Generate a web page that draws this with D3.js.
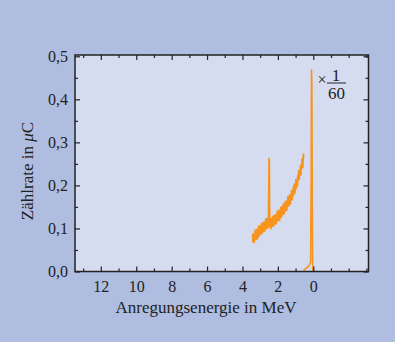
<!DOCTYPE html>
<html><head><meta charset="utf-8">
<script src="https://cdn.jsdelivr.net/npm/d3@7"></script>
<style>html,body{margin:0;padding:0;background:#aebde0;}svg{display:block;}</style>
</head><body>
<svg id="c" width="395" height="342"></svg>
<script>
// Spectrum band (excitation energy in MeV, count rate per µC)
const bandEnergy = [3.425,3.400,3.375,3.350,3.325,3.300,3.275,3.250,3.225,3.200,3.175,3.150,3.125,3.100,3.075,3.050,3.025,3.000,2.975,2.950,2.925,2.900,2.875,2.850,2.825,2.800,2.775,2.750,2.725,2.700,2.675,2.650,2.625,2.600,2.575,2.550,2.525,2.505,2.495,2.485,2.475,2.450,2.425,2.400,2.375,2.350,2.325,2.300,2.275,2.250,2.225,2.200,2.175,2.150,2.125,2.100,2.075,2.050,2.025,2.000,1.975,1.950,1.925,1.900,1.875,1.850,1.825,1.800,1.775,1.750,1.725,1.700,1.675,1.650,1.625,1.600,1.575,1.550,1.525,1.500,1.475,1.450,1.425,1.400,1.375,1.350,1.325,1.300,1.275,1.250,1.225,1.200,1.175,1.150,1.125,1.100,1.075,1.050,1.025,1.000,0.975,0.950,0.925,0.900,0.875,0.850,0.825,0.800,0.775,0.750,0.725,0.700,0.675,0.650,0.625,0.600,0.575,0.550];
const bandRate = [0.088,0.069,0.084,0.068,0.089,0.078,0.096,0.074,0.089,0.080,0.098,0.076,0.096,0.086,0.105,0.083,0.097,0.088,0.106,0.092,0.111,0.088,0.105,0.093,0.114,0.095,0.110,0.094,0.115,0.104,0.122,0.100,0.114,0.105,0.124,0.102,0.123,0.200,0.262,0.245,0.150,0.107,0.123,0.100,0.114,0.105,0.123,0.109,0.128,0.105,0.122,0.110,0.131,0.112,0.127,0.111,0.133,0.122,0.140,0.118,0.132,0.123,0.142,0.120,0.140,0.130,0.149,0.127,0.141,0.132,0.151,0.137,0.157,0.134,0.152,0.140,0.162,0.143,0.159,0.143,0.165,0.155,0.174,0.152,0.167,0.159,0.178,0.157,0.178,0.169,0.188,0.167,0.183,0.175,0.195,0.182,0.203,0.181,0.200,0.190,0.213,0.196,0.213,0.199,0.222,0.213,0.234,0.214,0.231,0.224,0.245,0.225,0.248,0.240,0.261,0.242,0.260,0.274];
// Ground-state region (scaled x 1/60)
const gsEnergy = [0.55,0.48,0.40,0.32,0.25,0.19,0.15,0.12,0.10,0.08,0.05,0.03,0.01,-0.02];
const gsRate = [0.003,0.005,0.008,0.010,0.013,0.018,0.022,0.200,0.468,0.440,0.100,0.006,0.002,0.003];
const xTicks = [12,10,8,6,4,2,0];
const xMinor = [13,11,9,7,5,3,1,-1,-2,-3];
const yTicks = [0,0.1,0.2,0.3,0.4,0.5];
const yMinor = [0.05,0.15,0.25,0.35,0.45];
const xTitle = "Anregungsenergie in MeV";
const scaleNote = ["×","1","60"];

const svg = d3.select("#c");
const L=75, R=368.5, T=55, B=271.5;
const x = d3.scaleLinear().domain([13.46,-3.12]).range([L,R]);
const y = d3.scaleLinear().domain([0,0.503]).range([B,T]);
const font = "'Liberation Serif','Times New Roman',serif";
const ink = "#222";

svg.append("rect").attr("width",395).attr("height",342).attr("fill","#aebde0");
svg.append("rect").attr("x",L).attr("y",T).attr("width",R-L).attr("height",B-T).attr("fill","#d5dcef");

const line = d3.line().x((d)=>x(d[0])).y((d)=>y(d[1]));
svg.append("defs").append("clipPath").attr("id","pc").append("rect").attr("x",L).attr("y",T).attr("width",R-L).attr("height",B-T-0.5);
const g = svg.append("g").attr("clip-path","url(#pc)");
g.append("path").datum(bandEnergy.map((e,i)=>[e,bandRate[i]])).attr("d",line)
 .attr("fill","none").attr("stroke","#f7941d").attr("stroke-width",1.9).attr("stroke-linejoin","round");
g.append("path").datum(gsEnergy.map((e,i)=>[e,gsRate[i]])).attr("d",line)
 .attr("fill","none").attr("stroke","#f7941d").attr("stroke-width",1.6).attr("stroke-linejoin","round");

// axes (ticks inward on all sides)
function styleAxis(sel){ sel.select(".domain").remove(); sel.selectAll("line").attr("stroke",ink).attr("stroke-width",1.2);
  sel.selectAll("text").attr("font-family",font).attr("font-size",16).attr("fill",ink); }
const fmt = (d)=>d3.format(".1f")(d).replace(".",",");
svg.append("g").attr("transform",`translate(0,${B})`)
  .call(d3.axisBottom(x).tickValues(xTicks).tickSizeInner(-5).tickSizeOuter(0).tickPadding(9).tickFormat(d3.format("d"))).call(styleAxis);
svg.append("g").attr("transform",`translate(0,${B})`).call(d3.axisBottom(x).tickValues(xMinor).tickSize(-3).tickFormat("")).call(styleAxis);
svg.append("g").attr("transform",`translate(0,${T})`).call(d3.axisTop(x).tickValues(xTicks).tickSize(-5).tickFormat("")).call(styleAxis);
svg.append("g").attr("transform",`translate(0,${T})`).call(d3.axisTop(x).tickValues(xMinor).tickSize(-3).tickFormat("")).call(styleAxis);
svg.append("g").attr("transform",`translate(${L},0)`)
  .call(d3.axisLeft(y).tickValues(yTicks).tickSizeInner(-5).tickSizeOuter(0).tickPadding(7).tickFormat(fmt)).call(styleAxis);
svg.append("g").attr("transform",`translate(${L},0)`).call(d3.axisLeft(y).tickValues(yMinor).tickSize(-3).tickFormat("")).call(styleAxis);
svg.append("g").attr("transform",`translate(${R},0)`).call(d3.axisRight(y).tickValues(yTicks).tickSize(-5).tickFormat("")).call(styleAxis);
svg.append("g").attr("transform",`translate(${R},0)`).call(d3.axisRight(y).tickValues(yMinor).tickSize(-3).tickFormat("")).call(styleAxis);

svg.append("rect").attr("x",L).attr("y",T).attr("width",R-L).attr("height",B-T)
  .attr("fill","none").attr("stroke",ink).attr("stroke-width",1.5);

svg.append("text").attr("x",206).attr("y",313).attr("text-anchor","middle")
  .attr("font-family",font).attr("font-size",17).attr("fill",ink).text(xTitle);

const yt = svg.append("text").attr("transform","translate(33,171) rotate(-90)").attr("text-anchor","middle")
  .attr("font-family",font).attr("font-size",17).attr("fill",ink);
yt.append("tspan").text("Zählrate in ");
yt.append("tspan").attr("font-style","italic").text("μ");
yt.append("tspan").text("C");

// ×1/60 note
svg.append("text").attr("x",322).attr("y",85).attr("text-anchor","middle").attr("font-family",font).attr("font-size",16).attr("fill",ink).text(scaleNote[0]);
svg.append("text").attr("x",336).attr("y",80.5).attr("text-anchor","middle").attr("font-family",font).attr("font-size",17).attr("fill",ink).text(scaleNote[1]);
svg.append("line").attr("x1",327).attr("x2",346).attr("y1",83).attr("y2",83).attr("stroke",ink).attr("stroke-width",1);
svg.append("text").attr("x",336.5).attr("y",98.5).attr("text-anchor","middle").attr("font-family",font).attr("font-size",17).attr("fill",ink).text(scaleNote[2]);
</script>
</body></html>
